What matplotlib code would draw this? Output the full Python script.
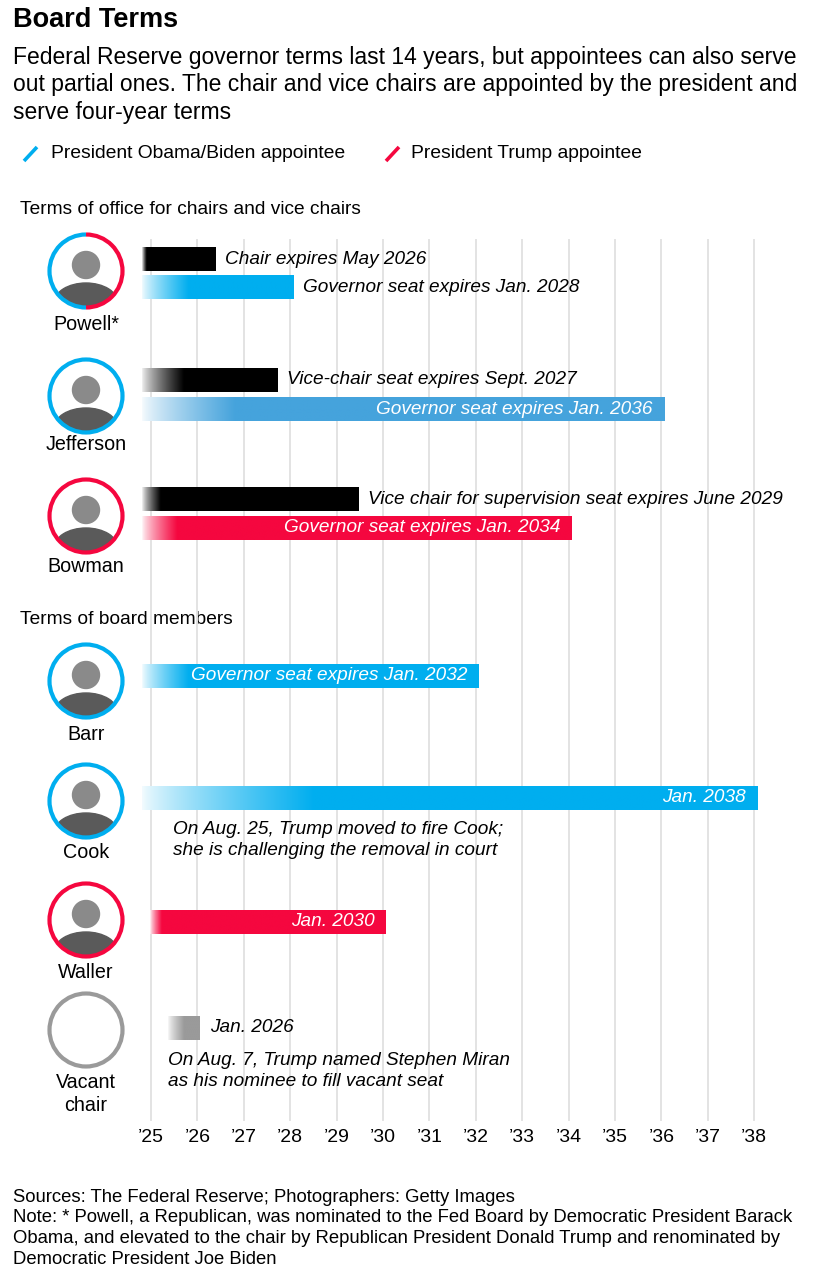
import numpy as np
import matplotlib
matplotlib.use("Agg")
import matplotlib.pyplot as plt
from matplotlib.patches import Circle, Arc, Ellipse
from matplotlib.colors import to_rgb

plt.rcParams['font.family'] = ['Liberation Sans', 'DejaVu Sans']

# ---- data ----
names = ["Powell*", "Jefferson", "Bowman", "Barr", "Cook", "Waller", "Vacant\nchair"]
appointed_by = ["both", "obama", "trump", "obama", "obama", "trump", "vacant"]

# chair / vice chair terms (Powell, Jefferson, Bowman): (year, month)
chair_expiry = [(2026, 5), (2027, 9), (2029, 6)]
chair_labels = ["Chair expires May 2026",
                "Vice-chair seat expires Sept. 2027",
                "Vice chair for supervision seat expires June 2029"]

# governor seats, one per row
gov_expiry = [(2028, 1), (2036, 1), (2034, 1), (2032, 1), (2038, 1), (2030, 1), (2026, 1)]
gov_labels = ["Governor seat expires Jan. 2028", "Governor seat expires Jan. 2036",
              "Governor seat expires Jan. 2034", "Governor seat expires Jan. 2032",
              "Jan. 2038", "Jan. 2030", "Jan. 2026"]
gov_label_inside = [False, True, True, True, True, True, False]
gov_start = [2024.8, 2024.8, 2024.8, 2024.8, 2024.8, 2024.98, 2025.37]
chair_start = [2024.8, 2024.8, 2024.8]

years = list(range(2025, 2039))
tick_labels = ["\u2019%02d" % (y % 100) for y in years]

notes = {4: "On Aug. 25, Trump moved to fire Cook;\nshe is challenging the removal in court",
         6: "On Aug. 7, Trump named Stephen Miran\nas his nominee to fill vacant seat"}

BLUE = "#00aeef"
BLUE2 = "#45a3dc"
RED = "#f5073f"
GRAY = "#9a9a9a"
ring_colors = {"obama": BLUE, "trump": RED, "vacant": GRAY}

# ---- layout (pixels) ----
W, H = 820, 1275
row_circle_y = [271, 396, 516, 681, 801, 920, 1030]
row_name_y = [324, 445, 566, 734, 852, 972, 1094]
chair_bar_y = [259, 380, 499]
gov_bar_y = [287, 409, 528, 676, 798, 922, 1028]
bar_h = 24
chair_fade = [0.1, 0.9, 0.4]
gov_fade = [1.0, 2.0, 0.75, 1.0, 3.7, 0.25, 0.35]
gov_colors = [BLUE, BLUE2, RED, BLUE, BLUE, RED, GRAY]

PX0, PX_PER_YEAR = 151.0, 46.4
LBL = 13.7


def to_dec(ym):
    y, m = ym
    return y + (m - 0.3) / 12.0


fig = plt.figure(figsize=(W / 100, H / 100), dpi=100)
ax_px = fig.add_axes([0, 0, 1, 1])
ax = fig.add_axes([0, 0, 1, 1])
ax.patch.set_alpha(0)

# header
ax_px.text(13, 20, "Board Terms", fontsize=19.5, fontweight="bold", va="center")
ax_px.text(13, 46, "Federal Reserve governor terms last 14 years, but appointees can also serve\n"
           "out partial ones. The chair and vice chairs are appointed by the president and\n"
           "serve four-year terms", fontsize=16.5, va="top", linespacing=1.24)
ax_px.plot([24, 37], [161, 147], color=BLUE, lw=2.6, solid_capstyle="butt")
ax_px.text(51, 154, "President Obama/Biden appointee", fontsize=13.9, va="center")
ax_px.plot([386, 399], [161, 147], color=RED, lw=2.6, solid_capstyle="butt")
ax_px.text(411, 154, "President Trump appointee", fontsize=13.9, va="center")
ax_px.text(20, 210, "Terms of office for chairs and vice chairs", fontsize=13.8, va="center")
ax_px.text(20, 619, "Terms of board members", fontsize=13.8, va="center")

# portraits: rings with a plain silhouette placeholder
for i, kind in enumerate(appointed_by):
    cx, cy = 86, row_circle_y[i]
    r = 36.5
    if kind != "vacant":
        clip = Circle((cx, cy), r - 1, transform=ax_px.transData)
        head = Circle((cx, cy - 6), 13.5, color="#8a8a8a", zorder=2)
        body = Ellipse((cx, cy + 32), 64, 40, color="#5a5a5a", zorder=2)
        for p in (head, body):
            ax_px.add_patch(p)
            p.set_clip_path(clip)
    if kind == "both":
        ax_px.add_patch(Arc((cx, cy), 2 * r, 2 * r, theta1=90, theta2=270, color=BLUE, lw=3.0, zorder=3))
        ax_px.add_patch(Arc((cx, cy), 2 * r, 2 * r, theta1=270, theta2=90, color=RED, lw=3.0, zorder=3))
    else:
        ax_px.add_patch(Circle((cx, cy), r, fill=False, ec=ring_colors[kind], lw=3.0, zorder=3))
    ax_px.text(cx, row_name_y[i], names[i], fontsize=14.2, ha="center", va="center", linespacing=1.3)

# footer
ax_px.text(13, 1197, "Sources: The Federal Reserve; Photographers: Getty Images", fontsize=13.3, va="center")
ax_px.text(13, 1209, "Note: * Powell, a Republican, was nominated to the Fed Board by Democratic President Barack\n"
           "Obama, and elevated to the chair by Republican President Donald Trump and renominated by\n"
           "Democratic President Joe Biden", fontsize=13.3, va="top", linespacing=1.3)

ax_px.set_xlim(0, W)
ax_px.set_ylim(H, 0)
ax_px.axis("off")

# ---- timeline axes (x in years) ----
for yv in years:
    ax.plot([yv, yv], [240, 1120], color="#e3e3e3", lw=1.4, zorder=0)
for yv, lab in zip(years, tick_labels):
    ax.text(yv, 1138, lab, fontsize=14, ha="center", va="center")


def gradient_bar(start, end, yc, color, fade):
    n = 400
    xs = np.linspace(start, end, n)
    t = np.clip((xs - start) / max(fade, 1e-3), 0.0, 1.0) ** 0.8
    t = 0.05 + 0.95 * t
    rgb = np.array(to_rgb(color))
    arr = (1 - t[:, None]) * 1.0 + t[:, None] * rgb[None, :]
    ax.imshow(arr[None, :, :], extent=[start, end, yc + bar_h / 2, yc - bar_h / 2],
              aspect="auto", interpolation="bilinear", zorder=2)


for i in range(3):
    end = to_dec(chair_expiry[i])
    gradient_bar(chair_start[i], end, chair_bar_y[i], "#000000", chair_fade[i])
    ax.annotate(chair_labels[i], (end, chair_bar_y[i]), xytext=(7, 0), textcoords="offset points",
                fontsize=LBL, style="italic", va="center", ha="left", zorder=4)

for i in range(len(names)):
    end = to_dec(gov_expiry[i])
    gradient_bar(gov_start[i], end, gov_bar_y[i], gov_colors[i], gov_fade[i])
    if gov_label_inside[i]:
        ax.annotate(gov_labels[i], (end, gov_bar_y[i]), xytext=(-8, 0), textcoords="offset points",
                    fontsize=LBL, style="italic", va="center", ha="right", color="white", zorder=4)
    else:
        ax.annotate(gov_labels[i], (end, gov_bar_y[i]), xytext=(7, 0), textcoords="offset points",
                    fontsize=LBL, style="italic", va="center", ha="left", zorder=4)

note_pos = {4: (2025.47, 840), 6: (2025.37, 1071)}
for k, txt in notes.items():
    ax.text(note_pos[k][0], note_pos[k][1], txt, fontsize=LBL, style="italic",
            va="center", ha="left", linespacing=1.3)

ax.set_xlim(2025 - PX0 / PX_PER_YEAR, 2025 + (W - PX0) / PX_PER_YEAR)
ax.set_ylim(H, 0)
ax.axis("off")

fig.savefig("out.png", dpi=100)
